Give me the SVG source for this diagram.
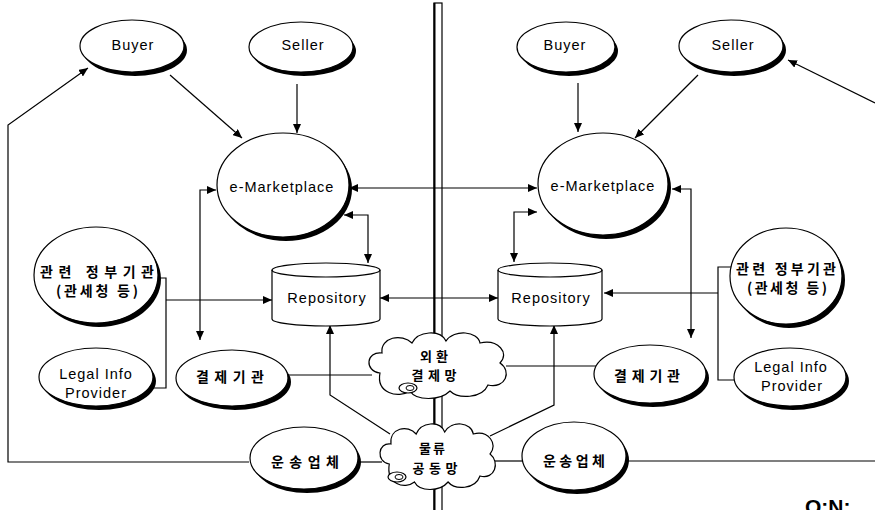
<svg xmlns="http://www.w3.org/2000/svg" xmlns:xlink="http://www.w3.org/1999/xlink" width="875" height="510" viewBox="0 0 875 510">
  <style>
    .node { fill: #fff; stroke: #000; stroke-width: 1.2; }
    .shadow { fill: #000; }
    .conn { fill: none; stroke: #000; stroke-width: 1.2; }
    .lbl { font-family: "Liberation Sans", "Noto Sans CJK KR", sans-serif; font-size: 14.5px; fill: #000; text-anchor: middle; letter-spacing: 1px; }
    .ko { font-family: "Noto Sans CJK KR", "Liberation Sans", sans-serif; font-size: 14px; font-weight: bold; fill: #000; text-anchor: middle; }
    .ko-s { font-size: 13px; }
    .big { font-family: "Liberation Sans", sans-serif; font-size: 21px; font-weight: bold; fill: #000; }
  </style>
  <defs>
    <marker id="ah" viewBox="0 0 9 8" refX="9" refY="4" markerWidth="9" markerHeight="8" markerUnits="userSpaceOnUse" orient="auto-start-reverse">
      <path d="M0,0 L9,4 L0,8 Z" fill="#000"/>
    </marker>
    <path id="cloud" class="node" vector-effect="non-scaling-stroke" d="M -58,8 C -74,6 -72,-14 -56,-12 C -58,-28 -36,-32 -26,-22 C -20,-34 2,-36 8,-24 C 16,-36 40,-34 42,-22 C 60,-26 72,-12 62,-2 C 74,6 68,24 50,20 C 44,34 20,34 12,26 C 2,36 -22,36 -28,26 C -40,34 -62,28 -58,8 Z"/>
  </defs>
  <rect width="875" height="510" fill="#fff"/>

  <!-- central divider -->
  <g id="divider">
    <rect x="434" y="3" width="8" height="520" fill="#fff" stroke="#000" stroke-width="1.2"/>
    <line x1="434.5" y1="3" x2="434.5" y2="510" stroke="#000" stroke-width="2"/>
  </g>

  <g id="connectors" class="conn">
    <!-- left side -->
    <path d="M 249,462 L 8,462 L 8,125 L 88,68" marker-end="url(#ah)"/>
    <path d="M 170,75 L 242,138" marker-end="url(#ah)"/>
    <path d="M 297,84 L 297,133" marker-end="url(#ah)"/>
    <path d="M 349,188 L 537,188" marker-start="url(#ah)" marker-end="url(#ah)"/>
    <path d="M 200,340 L 200,190 L 216,190" marker-start="url(#ah)" marker-end="url(#ah)"/>
    <path d="M 344,215 L 368,215 L 368,263" marker-start="url(#ah)" marker-end="url(#ah)"/>
    <path d="M 158,278 L 166,278 L 166,388 L 152,388"/>
    <path d="M 166,300 L 272,300" marker-end="url(#ah)"/>
    <path d="M 380,298 L 498,298" marker-start="url(#ah)" marker-end="url(#ah)"/>
    <path d="M 288,375 L 372,375"/>
    <path d="M 390,434 L 330,395 L 330,325" marker-end="url(#ah)"/>
    <path d="M 356,462 L 382,462"/>
    <!-- right side -->
    <path d="M 506,366 L 596,366"/>
    <path d="M 490,436 L 554,405 L 554,325" marker-end="url(#ah)"/>
    <path d="M 495,461 L 524,461"/>
    <path d="M 624,461 L 875,461"/>
    <path d="M 875,103 L 788,60" marker-end="url(#ah)"/>
    <path d="M 698,75 L 635,138" marker-end="url(#ah)"/>
    <path d="M 578,83 L 578,132" marker-end="url(#ah)"/>
    <path d="M 537,212 L 514,212 L 514,262" marker-start="url(#ah)" marker-end="url(#ah)"/>
    <path d="M 672,189 L 691,189 L 691,338" marker-start="url(#ah)" marker-end="url(#ah)"/>
    <path d="M 732,267 L 718,267 L 718,380 L 736,380"/>
    <path d="M 718,293 L 604,293" marker-end="url(#ah)"/>
  </g>

  <!-- left half -->
  <g id="buyer-l">
    <ellipse class="shadow" cx="135" cy="50" rx="52" ry="26"/>
    <ellipse class="node" cx="132" cy="46" rx="52" ry="26"/>
    <text class="lbl" x="133" y="50">Buyer</text>
  </g>
  <g id="seller-l">
    <ellipse class="shadow" cx="304" cy="51" rx="52" ry="25"/>
    <ellipse class="node" cx="301" cy="47" rx="52" ry="25"/>
    <text class="lbl" x="303" y="50">Seller</text>
  </g>
  <g id="emarket-l">
    <ellipse class="shadow" cx="286" cy="189" rx="66" ry="52"/>
    <ellipse class="node" cx="283" cy="185" rx="66" ry="52"/>
    <text class="lbl" x="282" y="192">e-Marketplace</text>
  </g>
  <g id="repo-l">
    <path class="node" d="M 272,270 A 54,7 0 0 1 380,270 L 380,319 A 54,7 0 0 1 272,319 Z"/>
    <path class="conn" d="M 272,270 A 54,7 0 0 0 380,270"/>
    <text class="lbl" x="327" y="303">Repository</text>
  </g>
  <g id="gov-l">
    <ellipse class="shadow" cx="99" cy="279" rx="62" ry="48"/>
    <ellipse class="node" cx="96" cy="275" rx="62" ry="48"/>
    <text class="ko" x="97" y="277" textLength="114" lengthAdjust="spacing">관련 정부기관</text>
    <text class="ko" x="97" y="296" textLength="82" lengthAdjust="spacing">(관세청 등)</text>
  </g>
  <g id="legal-l">
    <ellipse class="shadow" cx="99" cy="381" rx="57" ry="29"/>
    <ellipse class="node" cx="96" cy="377" rx="57" ry="29"/>
    <text class="lbl" x="96" y="379">Legal Info</text>
    <text class="lbl" x="96" y="398">Provider</text>
  </g>
  <g id="payment-l">
    <ellipse class="shadow" cx="235" cy="382" rx="56" ry="28"/>
    <ellipse class="node" cx="232" cy="378" rx="56" ry="28"/>
    <text class="ko" x="230" y="382" textLength="68" lengthAdjust="spacing">결제기관</text>
  </g>
  <g id="carrier-l">
    <ellipse class="shadow" cx="307" cy="462" rx="54" ry="31"/>
    <ellipse class="node" cx="304" cy="458" rx="54" ry="31"/>
    <text class="ko" x="305" y="467" textLength="68" lengthAdjust="spacing">운송업체</text>
  </g>

  <!-- shared networks -->
  <g id="net-fx">
    <use xlink:href="#cloud" transform="translate(438,365)"/>
    <ellipse class="node" cx="408" cy="388" rx="9" ry="5"/>
    <ellipse cx="410" cy="388" rx="4" ry="2.5" fill="none" stroke="#000" stroke-width="1"/>
    <text class="ko ko-s" x="434" y="361" textLength="28" lengthAdjust="spacing">외환</text>
    <text class="ko ko-s" x="434" y="380" textLength="45" lengthAdjust="spacing">결제망</text>
  </g>
  <g id="net-logistics">
    <use xlink:href="#cloud" transform="translate(438,456) scale(0.84,1)"/>
    <ellipse class="node" cx="397" cy="477" rx="9" ry="5"/>
    <ellipse cx="399" cy="477" rx="4" ry="2.5" fill="none" stroke="#000" stroke-width="1"/>
    <text class="ko ko-s" x="432" y="453" textLength="26" lengthAdjust="spacing">물류</text>
    <text class="ko ko-s" x="435" y="473" textLength="45" lengthAdjust="spacing">공동망</text>
  </g>

  <!-- right half -->
  <g id="buyer-r">
    <ellipse class="shadow" cx="569" cy="51" rx="49" ry="25"/>
    <ellipse class="node" cx="566" cy="47" rx="49" ry="25"/>
    <text class="lbl" x="565" y="50">Buyer</text>
  </g>
  <g id="seller-r">
    <ellipse class="shadow" cx="734" cy="50" rx="52" ry="26"/>
    <ellipse class="node" cx="731" cy="46" rx="52" ry="26"/>
    <text class="lbl" x="733" y="50">Seller</text>
  </g>
  <g id="emarket-r">
    <ellipse class="shadow" cx="606" cy="188" rx="65" ry="51"/>
    <ellipse class="node" cx="603" cy="184" rx="65" ry="51"/>
    <text class="lbl" x="603" y="191">e-Marketplace</text>
  </g>
  <g id="repo-r">
    <path class="node" d="M 498,270 A 52,7 0 0 1 602,270 L 602,319 A 52,7 0 0 1 498,319 Z"/>
    <path class="conn" d="M 498,270 A 52,7 0 0 0 602,270"/>
    <text class="lbl" x="551" y="303">Repository</text>
  </g>
  <g id="gov-r">
    <ellipse class="shadow" cx="789" cy="280" rx="56" ry="48"/>
    <ellipse class="node" cx="786" cy="276" rx="56" ry="48"/>
    <text class="ko" x="786" y="274" textLength="100" lengthAdjust="spacing">관련 정부기관</text>
    <text class="ko" x="787" y="293" textLength="80" lengthAdjust="spacing">(관세청 등)</text>
  </g>
  <g id="legal-r">
    <ellipse class="shadow" cx="793" cy="381" rx="56" ry="29"/>
    <ellipse class="node" cx="790" cy="377" rx="56" ry="29"/>
    <text class="lbl" x="791" y="372">Legal Info</text>
    <text class="lbl" x="792" y="391">Provider</text>
  </g>
  <g id="payment-r">
    <ellipse class="shadow" cx="653" cy="378" rx="56" ry="29"/>
    <ellipse class="node" cx="650" cy="374" rx="56" ry="29"/>
    <text class="ko" x="647" y="381" textLength="66" lengthAdjust="spacing">결제기관</text>
  </g>
  <g id="carrier-r">
    <ellipse class="shadow" cx="577" cy="460" rx="52" ry="34"/>
    <ellipse class="node" cx="574" cy="456" rx="52" ry="34"/>
    <text class="ko" x="574" y="466" textLength="62" lengthAdjust="spacing">운송업체</text>
  </g>

  <text class="big" x="805" y="514">O:N:</text>
</svg>
